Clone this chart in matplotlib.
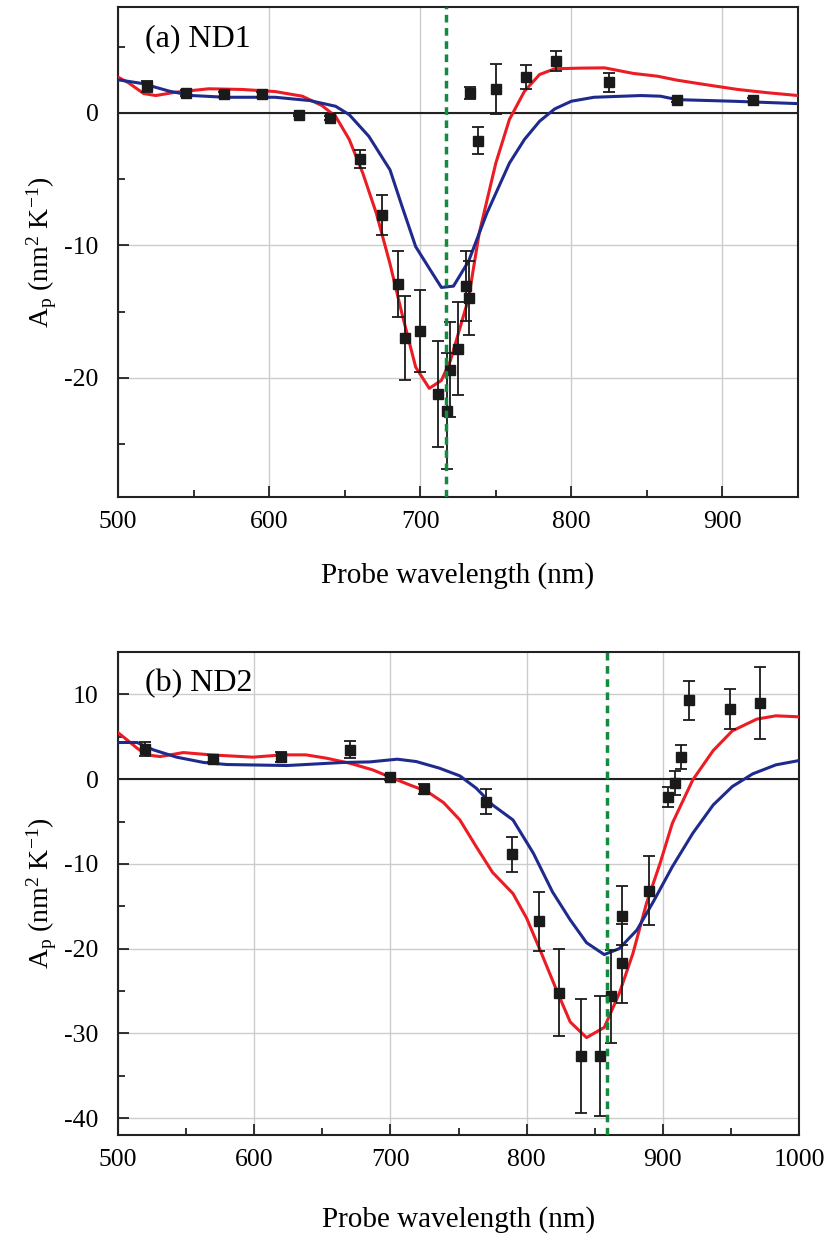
import matplotlib
matplotlib.use("Agg")
import matplotlib.pyplot as plt
from matplotlib.ticker import MultipleLocator

plt.rcParams['font.family'] = ['Liberation Serif', 'DejaVu Serif']
plt.rcParams['mathtext.fontset'] = 'custom'
plt.rcParams['mathtext.rm'] = 'Liberation Serif'
plt.rcParams['mathtext.it'] = 'Liberation Serif:italic'
plt.rcParams['axes.unicode_minus'] = False

# ---- panel (a) ND1 ----
a_wl = [519, 545, 570, 595, 620, 640, 660, 675, 685, 690, 700, 712, 718, 720, 725,
        730, 732, 733, 738, 750, 770, 790, 825, 870, 920]
a_val = [2.0, 1.5, 1.4, 1.4, -0.15, -0.4, -3.5, -7.7, -12.9, -17.0, -16.5, -21.2, -22.5, -19.4, -17.8,
         -13.1, -14.0, 1.5, -2.1, 1.8, 2.7, 3.9, 2.3, 0.95, 0.95]
a_err = [0.4, 0.2, 0.2, 0.2, 0.1, 0.15, 0.67, 1.5, 2.5, 3.2, 3.1, 4.0, 4.4, 3.6, 3.5,
         2.65, 2.8, 0.48, 1.0, 1.9, 0.9, 0.77, 0.73, 0.15, 0.15]

a_red_wl = [500, 507, 517, 525, 538, 560, 582, 604, 622, 635, 644, 653, 662, 671, 680, 688,
            697, 706, 714, 720, 732, 739, 750, 759, 769, 779, 789, 806, 822, 841, 857, 870,
            885, 910, 930, 950]
a_red = [2.7, 2.27, 1.46, 1.31, 1.56, 1.82, 1.77, 1.61, 1.26, 0.55, -0.26, -2.0, -4.55, -7.6, -11.4, -15.2,
         -19.2, -20.8, -20.2, -18.7, -14.0, -9.1, -3.8, -0.5, 1.64, 2.9, 3.33, 3.38, 3.4, 2.98, 2.77, 2.47,
         2.2, 1.77, 1.52, 1.31]

a_blue_wl = [500, 516, 534, 549, 571, 604, 627, 644, 653, 666, 680, 688, 697, 706, 714, 722,
             732, 744, 759, 769, 779, 789, 800, 815, 846, 859, 870, 907, 950]
a_blue = [2.5, 2.22, 1.64, 1.31, 1.18, 1.18, 0.93, 0.5, -0.13, -1.77, -4.3, -7.07, -10.1, -11.74, -13.18, -13.08,
          -11.2, -7.6, -3.8, -2.0, -0.63, 0.3, 0.88, 1.18, 1.31, 1.26, 1.0, 0.88, 0.7]

a_mark = 717

# ---- panel (b) ND2 ----
b_wl = [520, 570, 620, 670, 700, 725, 770, 789, 809, 824, 840, 854, 862, 870, 870,
        890, 904, 909, 913, 919, 949, 971]
b_val = [3.55, 2.4, 2.6, 3.46, 0.23, -1.15, -2.64, -8.87, -16.75, -25.2, -32.67, -32.67, -25.6, -16.1, -21.75,
         -13.16, -2.05, -0.48, 2.6, 9.29, 8.27, 8.98]
b_err = [0.79, 0.4, 0.6, 1.0, 0.3, 0.6, 1.44, 2.03, 3.49, 5.16, 6.68, 7.05, 5.48, 3.45, 4.67,
         4.04, 1.18, 1.44, 1.44, 2.27, 2.36, 4.24]

b_red_wl = [500, 505, 514, 521, 531, 548, 568, 599, 621, 638, 653, 670, 687, 700, 714, 727,
            739, 751, 763, 775, 790, 800, 810, 822, 832, 844, 857, 868, 878, 888, 898, 907,
            922, 937, 951, 969, 983, 1000]
b_red = [5.5, 4.85, 3.66, 2.87, 2.67, 3.14, 2.87, 2.6, 2.87, 2.87, 2.48, 1.89, 1.1, 0.23, -0.67, -1.46,
         -2.76, -4.81, -7.96, -11.0, -13.5, -16.4, -20.2, -24.9, -28.65, -30.5, -29.3, -25.3, -20.6, -14.66, -9.93, -5.2,
         -0.08, 3.38, 5.7, 7.09, 7.48, 7.36]

b_blue_wl = [500, 514, 526, 543, 563, 580, 624, 665, 685, 705, 719, 736, 751, 763, 775, 790,
             805, 819, 832, 844, 857, 868, 881, 893, 907, 922, 937, 951, 966, 983, 1000]
b_blue = [4.33, 4.33, 3.46, 2.6, 1.97, 1.73, 1.61, 1.97, 2.04, 2.36, 2.08, 1.3, 0.39, -1.06, -3.04, -4.81,
          -8.75, -13.3, -16.6, -19.3, -20.7, -20.0, -17.8, -14.47, -10.33, -6.38, -3.04, -0.87, 0.63, 1.69, 2.2]

b_mark = 859

RED = '#ec1c24'
BLUE = '#1f2b8c'
GREEN = '#138a3e'


def draw_panel(ax, wl, val, err, rwl, rval, bwl, bval, mark, xlim, ylim, ymajor, label, xpad):
    ax.grid(True, which='major', color='#cccccc', linewidth=1.0)
    ax.set_axisbelow(True)
    ax.axhline(0, color='#222222', linewidth=1.5, zorder=2)
    ax.plot(rwl, rval, color=RED, linewidth=2.2, zorder=3)
    ax.plot(bwl, bval, color=BLUE, linewidth=2.2, zorder=3)
    ax.errorbar(wl, val, yerr=err, fmt='s', color='#1a1a1a', markersize=6.5,
                capsize=4, elinewidth=1.3, capthick=1.3, zorder=4)
    ax.axvline(mark, color=GREEN, linewidth=2.5, linestyle=(0, (2.2, 1.6)), zorder=5)
    ax.set_xlim(*xlim)
    ax.set_ylim(*ylim)
    ax.xaxis.set_major_locator(MultipleLocator(100))
    ax.xaxis.set_minor_locator(MultipleLocator(50))
    ax.yaxis.set_major_locator(MultipleLocator(ymajor))
    ax.yaxis.set_minor_locator(MultipleLocator(ymajor / 2))
    ax.tick_params(which='both', direction='in', top=False, right=False,
                   labelsize=18.5, width=1.3, color='#222222')
    ax.tick_params(which='major', length=8)
    ax.tick_params(which='minor', length=5)
    ax.tick_params(axis='x', pad=10)
    ax.tick_params(axis='y', pad=14)
    for s in ax.spines.values():
        s.set_linewidth(1.5)
        s.set_color('#222222')
    ax.set_xlabel('Probe wavelength (nm)', fontsize=21, labelpad=xpad)
    ax.set_ylabel(r'A$_\mathrm{p}$ (nm$^2$ K$^{-1}$)', fontsize=20, labelpad=4)
    ax.text(0.04, 0.965, label, transform=ax.transAxes, fontsize=23, va='top', ha='left')


def main():
    fig = plt.figure(figsize=(8.28, 12.39), dpi=100)
    ax1 = fig.add_axes([0.1425, 0.5989, 0.8213, 0.3955])
    ax2 = fig.add_axes([0.1425, 0.0839, 0.8225, 0.3898])

    draw_panel(ax1, a_wl, a_val, a_err, a_red_wl, a_red, a_blue_wl, a_blue, a_mark,
               (500, 950), (-29, 8), 10, '(a) ND1', 21)
    draw_panel(ax2, b_wl, b_val, b_err, b_red_wl, b_red, b_blue_wl, b_blue, b_mark,
               (500, 1000), (-42, 15), 10, '(b) ND2', 25)

    fig.savefig('out.png', dpi=100)


if __name__ == "__main__":
    main()
